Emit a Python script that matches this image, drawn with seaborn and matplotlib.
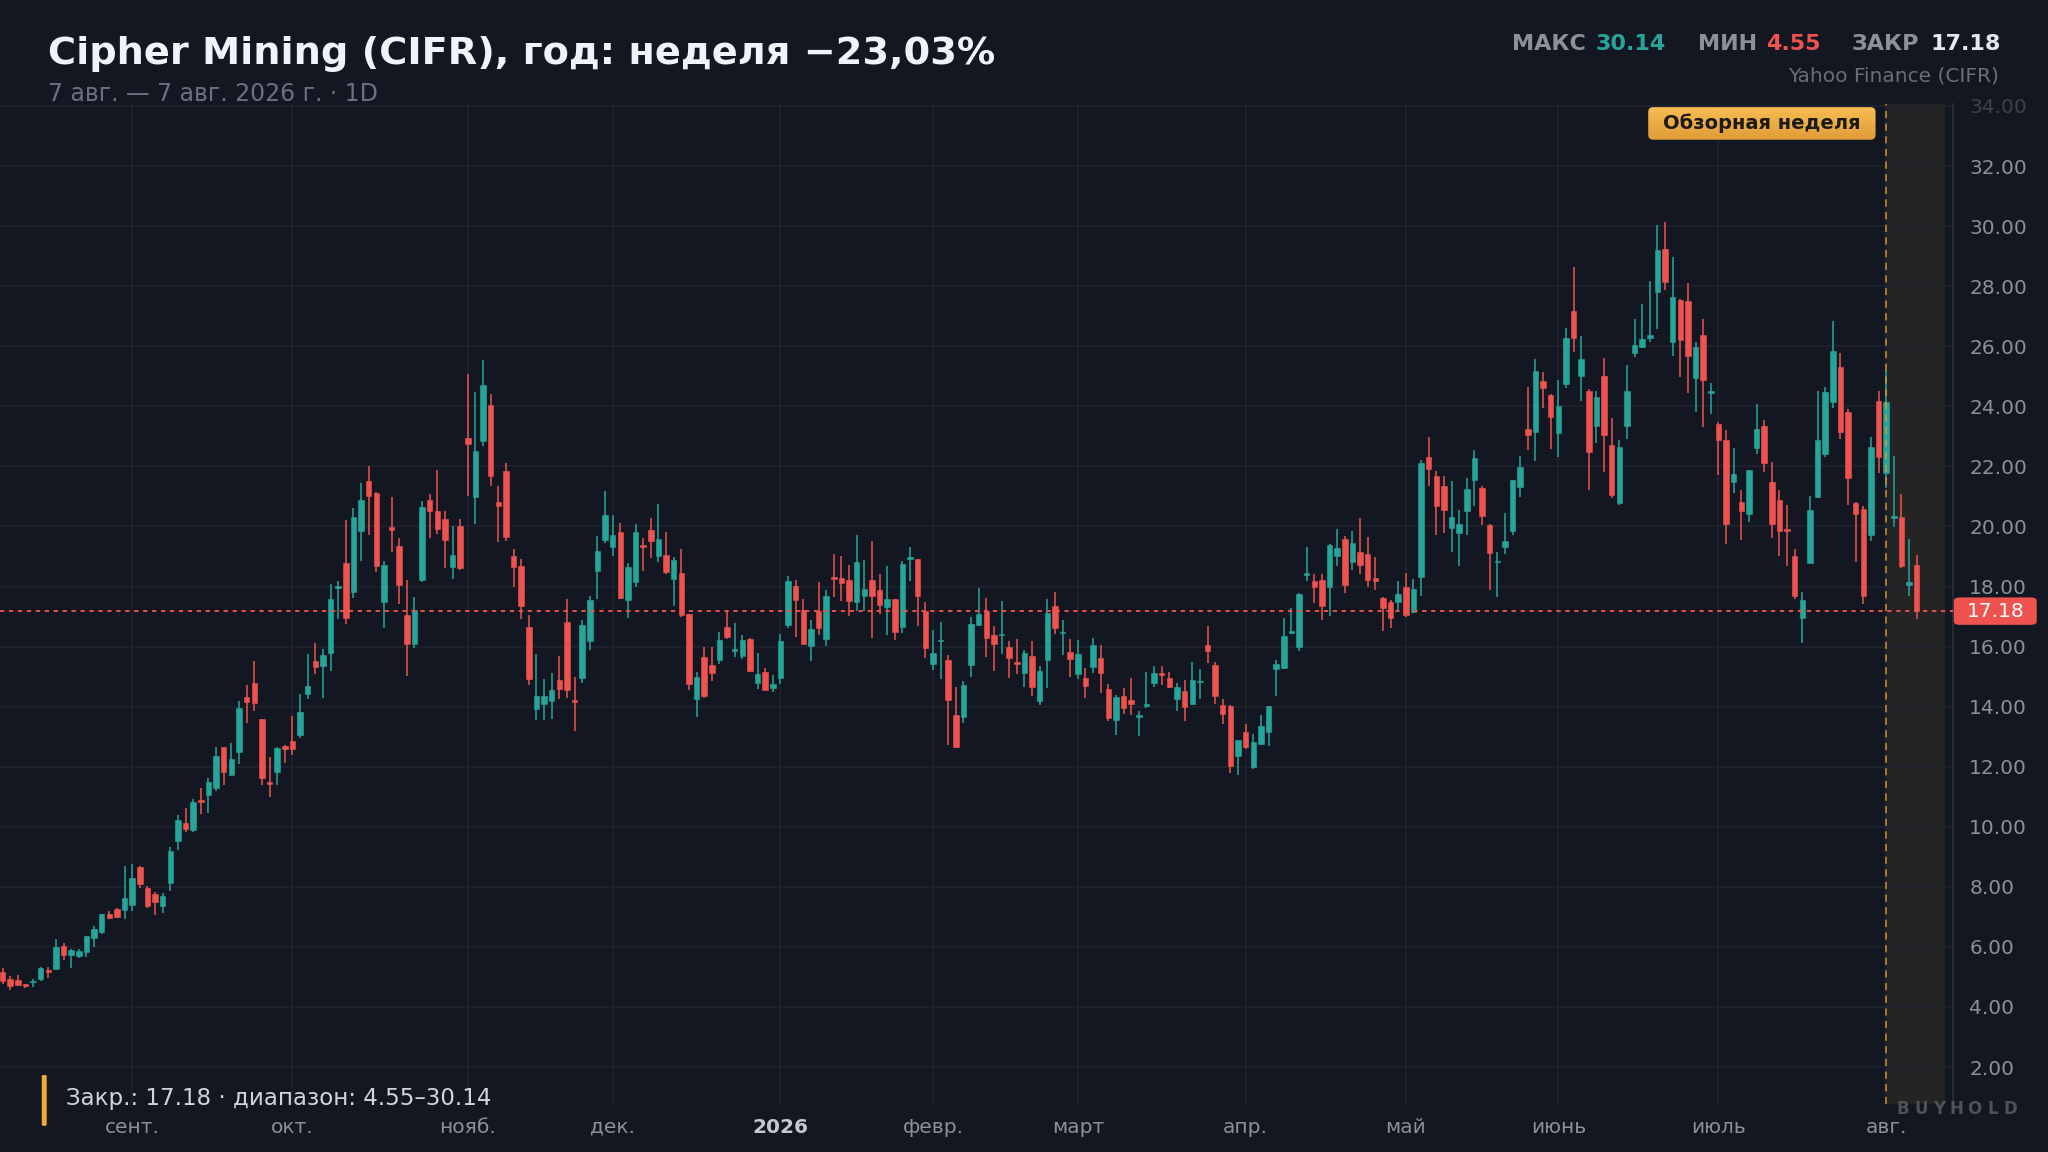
import numpy as np
import pandas as pd
import matplotlib
matplotlib.use("Agg")
import matplotlib.pyplot as plt
import seaborn as sns
from matplotlib.patches import FancyBboxPatch
from matplotlib.colors import LinearSegmentedColormap

# ---------------- data ----------------
OPEN = [5.15, 4.92, 4.89, 4.72, 4.82, 4.94, 5.22, 5.26, 6.02, 5.73,
        5.70, 5.84, 6.28, 6.51, 7.11, 7.26, 7.23, 7.40, 8.67, 7.96,
        7.76, 7.37, 8.14, 9.53, 10.13, 9.90, 10.87, 11.06, 11.29, 12.64,
        11.73, 12.50, 14.33, 14.80, 13.58, 11.49, 11.84, 12.70, 12.84, 13.07,
        14.43, 15.51, 15.35, 15.79, 17.95, 18.79, 17.82, 19.86, 21.50, 21.12,
        17.48, 19.97, 19.36, 17.06, 16.07, 18.23, 20.89, 20.51, 20.24, 18.66,
        20.03, 22.93, 20.98, 22.86, 24.06, 20.81, 21.86, 19.00, 18.67, 16.65,
        13.93, 14.09, 14.18, 14.90, 16.81, 14.21, 14.96, 16.20, 18.51, 19.56,
        19.33, 19.83, 17.56, 18.15, 19.37, 19.89, 19.03, 19.06, 18.24, 18.45,
        17.07, 14.24, 15.65, 15.40, 15.54, 16.65, 15.85, 15.67, 16.26, 14.80,
        15.15, 14.63, 14.96, 16.73, 18.01, 17.22, 16.01, 17.17, 16.24, 18.32,
        18.29, 18.23, 17.50, 17.67, 18.22, 17.89, 17.33, 17.58, 16.64, 18.92,
        18.90, 17.20, 15.42, 16.17, 15.56, 13.73, 13.64, 15.37, 16.73, 17.18,
        16.39, 16.37, 15.98, 15.46, 15.11, 15.70, 14.20, 15.56, 17.34, 16.44,
        15.81, 15.09, 14.96, 15.33, 15.62, 14.59, 13.54, 14.35, 14.23, 13.65,
        14.03, 14.78, 15.13, 14.96, 14.24, 14.51, 14.09, 14.81, 16.05, 15.40,
        14.04, 14.02, 12.35, 13.16, 12.00, 12.77, 13.16, 15.24, 15.28, 16.46,
        16.00, 18.39, 18.20, 18.22, 18.00, 19.02, 19.57, 18.83, 19.16, 19.08,
        18.30, 17.61, 17.48, 17.50, 17.97, 17.14, 18.33, 22.31, 21.68, 21.36,
        19.96, 19.77, 20.51, 21.54, 21.29, 20.04, 18.80, 19.33, 19.85, 21.31,
        23.25, 23.13, 24.85, 24.38, 23.10, 24.73, 27.18, 25.02, 24.52, 23.33,
        25.02, 22.70, 20.79, 23.33, 25.77, 25.99, 26.26, 27.82, 29.23, 26.13,
        27.54, 27.51, 24.94, 26.37, 24.44, 23.42, 22.87, 21.48, 20.82, 20.43,
        22.62, 23.33, 21.47, 20.88, 19.93, 19.00, 16.96, 18.77, 20.99, 22.42,
        24.14, 25.31, 23.81, 20.79, 20.58, 19.71, 24.17, 21.79, 20.28, 20.32,
        18.06, 18.70]
HIGH = [5.30, 5.03, 5.07, 4.78, 4.92, 5.33, 5.33, 6.26, 6.13, 5.93,
        5.92, 6.37, 6.70, 7.11, 7.20, 7.28, 8.70, 8.76, 8.70, 8.03,
        7.83, 7.81, 9.33, 10.40, 10.64, 10.91, 11.29, 11.62, 12.64, 12.66,
        12.80, 14.20, 14.73, 15.53, 13.60, 12.33, 12.64, 12.73, 13.69, 14.42,
        15.76, 16.12, 15.93, 18.09, 18.18, 20.20, 20.60, 21.45, 22.00, 21.14,
        18.84, 20.97, 19.62, 18.23, 17.64, 20.86, 21.09, 21.89, 20.53, 20.03,
        20.25, 25.09, 24.48, 25.53, 24.42, 21.34, 22.12, 19.26, 18.92, 17.04,
        15.76, 14.93, 15.12, 15.70, 17.57, 14.98, 16.87, 17.67, 19.67, 21.17,
        20.37, 20.12, 18.78, 20.09, 19.62, 20.29, 20.75, 19.80, 18.98, 19.26,
        17.10, 15.15, 15.98, 15.98, 16.48, 17.23, 16.79, 16.40, 16.28, 15.78,
        15.30, 15.04, 16.43, 18.34, 18.22, 17.60, 16.90, 18.14, 17.90, 19.07,
        19.00, 18.73, 19.70, 18.87, 19.51, 18.42, 18.68, 17.60, 18.84, 19.31,
        18.92, 17.48, 16.56, 16.81, 15.72, 14.67, 14.84, 17.00, 17.96, 17.62,
        16.69, 17.51, 16.17, 16.24, 15.87, 16.18, 15.34, 17.57, 17.83, 16.87,
        16.26, 16.21, 15.29, 16.27, 16.05, 14.76, 14.40, 14.62, 14.94, 13.85,
        15.17, 15.36, 15.34, 15.17, 14.78, 14.89, 15.47, 15.25, 16.67, 15.47,
        14.24, 14.06, 12.90, 13.43, 13.08, 13.71, 14.03, 15.56, 16.96, 17.27,
        17.79, 19.30, 18.42, 18.42, 19.40, 19.90, 19.68, 19.86, 20.27, 19.64,
        18.99, 17.65, 17.54, 18.17, 18.46, 18.24, 22.20, 22.97, 21.85, 21.67,
        21.51, 20.56, 21.62, 22.53, 21.34, 20.08, 19.16, 20.45, 21.56, 22.36,
        24.65, 25.57, 25.15, 24.40, 24.87, 26.60, 28.64, 26.35, 24.58, 24.52,
        25.60, 23.61, 22.89, 25.39, 26.90, 27.40, 28.17, 30.03, 30.14, 28.97,
        27.56, 28.09, 26.13, 26.90, 24.77, 23.47, 23.20, 22.62, 21.23, 21.89,
        24.08, 23.55, 22.16, 21.23, 20.73, 19.25, 17.81, 21.02, 24.50, 24.64,
        26.85, 25.78, 23.90, 20.81, 20.67, 22.98, 24.52, 25.21, 22.36, 21.08,
        19.57, 19.04]
LOW = [4.75, 4.55, 4.70, 4.62, 4.67, 4.87, 4.98, 5.26, 5.56, 5.29,
       5.64, 5.67, 6.00, 6.44, 6.92, 6.97, 6.92, 7.20, 7.96, 7.29,
       7.07, 7.14, 7.87, 9.22, 9.84, 9.83, 10.44, 10.47, 11.20, 11.40,
       11.71, 12.09, 13.44, 13.87, 11.40, 11.00, 11.38, 12.11, 12.40, 12.95,
       14.24, 15.09, 14.29, 15.18, 16.93, 16.75, 17.62, 18.86, 19.73, 18.49,
       16.62, 19.14, 17.43, 15.01, 15.95, 18.15, 19.62, 19.75, 18.62, 18.26,
       18.55, 21.00, 20.08, 22.67, 21.36, 19.47, 19.53, 17.99, 16.93, 14.71,
       13.56, 13.54, 13.60, 14.24, 14.30, 13.20, 14.80, 15.90, 17.57, 19.45,
       19.00, 17.60, 16.95, 18.00, 18.50, 18.95, 18.83, 18.40, 17.34, 16.98,
       14.54, 13.65, 14.28, 14.84, 15.43, 16.26, 15.65, 15.60, 15.17, 14.60,
       14.55, 14.50, 14.76, 16.63, 16.32, 16.05, 15.53, 16.37, 16.01, 17.64,
       17.53, 17.03, 17.20, 17.20, 16.28, 17.09, 16.37, 16.22, 16.44, 18.17,
       16.70, 15.62, 15.23, 14.92, 12.73, 12.61, 13.44, 15.00, 16.67, 15.64,
       15.20, 15.76, 14.96, 15.09, 14.67, 14.37, 14.06, 14.62, 16.42, 15.73,
       14.98, 14.92, 14.28, 15.12, 14.45, 13.52, 13.05, 13.76, 13.73, 13.01,
       13.96, 14.67, 14.73, 14.61, 13.85, 13.52, 14.07, 14.26, 15.44, 14.10,
       13.43, 11.80, 11.72, 12.60, 11.91, 12.77, 12.68, 14.34, 15.25, 16.42,
       15.84, 18.20, 17.45, 16.87, 17.03, 18.68, 17.80, 18.55, 18.42, 18.00,
       17.87, 16.51, 16.62, 17.23, 17.00, 17.12, 17.67, 21.34, 19.71, 19.79,
       19.16, 18.68, 19.71, 20.67, 20.04, 17.87, 17.65, 19.07, 19.71, 20.98,
       22.55, 22.18, 23.94, 22.59, 22.31, 24.60, 25.80, 24.19, 21.23, 22.78,
       21.81, 20.95, 20.71, 22.92, 25.63, 25.94, 26.13, 26.57, 27.86, 25.66,
       24.97, 24.44, 23.81, 23.31, 23.73, 21.70, 19.41, 21.10, 19.55, 20.15,
       22.42, 21.81, 19.63, 19.01, 18.68, 17.59, 16.13, 18.77, 20.96, 22.30,
       23.93, 22.90, 20.72, 18.82, 17.43, 19.51, 21.79, 21.29, 19.99, 18.62,
       17.67, 16.92]
CLOSE = [4.85, 4.70, 4.73, 4.70, 4.87, 5.29, 5.18, 6.01, 5.72, 5.91,
         5.87, 6.37, 6.59, 7.09, 6.96, 6.98, 7.62, 8.29, 8.09, 7.37,
         7.50, 7.68, 9.20, 10.22, 9.92, 10.83, 10.82, 11.49, 12.37, 11.83,
         12.27, 13.96, 14.14, 14.13, 11.64, 11.44, 12.62, 12.58, 12.59, 13.81,
         14.68, 15.31, 15.73, 17.59, 18.00, 16.95, 20.32, 20.87, 21.00, 18.67,
         18.73, 19.89, 18.04, 16.07, 17.23, 20.65, 20.53, 19.93, 19.55, 19.06,
         18.62, 22.75, 22.50, 24.70, 21.67, 20.67, 19.64, 18.64, 17.34, 14.93,
         14.37, 14.34, 14.57, 14.60, 14.54, 14.16, 16.73, 17.54, 19.17, 20.37,
         19.70, 17.62, 18.65, 19.83, 19.30, 19.50, 19.57, 18.48, 18.89, 17.04,
         14.74, 14.98, 14.35, 15.13, 16.23, 16.32, 15.93, 16.23, 15.18, 15.10,
         14.57, 14.76, 16.20, 18.17, 17.54, 16.07, 16.57, 16.62, 17.68, 18.26,
         18.12, 17.51, 18.81, 17.92, 17.70, 17.39, 17.57, 16.47, 18.76, 18.99,
         17.68, 15.94, 15.79, 16.22, 14.23, 12.67, 14.72, 16.76, 17.09, 16.28,
         16.09, 16.41, 15.62, 15.43, 15.79, 14.64, 15.20, 17.12, 16.61, 16.49,
         15.58, 15.75, 14.70, 16.05, 15.12, 13.62, 14.32, 13.96, 14.09, 13.70,
         14.08, 15.12, 15.06, 14.65, 14.65, 13.98, 14.89, 14.86, 15.86, 14.34,
         13.74, 12.02, 12.88, 12.64, 12.83, 13.34, 14.01, 15.42, 16.34, 16.51,
         17.76, 18.44, 18.00, 17.36, 19.38, 19.29, 18.06, 19.44, 18.72, 18.22,
         18.19, 17.28, 16.95, 17.75, 17.06, 17.91, 22.12, 21.92, 20.69, 20.56,
         20.30, 20.07, 21.26, 22.29, 20.34, 19.13, 18.86, 19.51, 21.54, 21.98,
         23.03, 25.16, 24.61, 23.66, 24.02, 26.29, 26.26, 25.58, 22.48, 24.30,
         23.06, 21.04, 22.64, 24.50, 26.04, 26.24, 26.37, 29.19, 28.15, 27.64,
         26.22, 25.69, 25.96, 24.86, 24.49, 22.87, 20.07, 21.76, 20.51, 21.87,
         23.25, 22.10, 20.08, 19.84, 19.86, 17.67, 17.55, 20.54, 22.89, 24.46,
         25.83, 23.13, 21.62, 20.40, 17.67, 22.63, 22.31, 24.14, 20.34, 18.68,
         18.14, 17.18]

HOLIDAYS = ["2025-09-01", "2025-11-27", "2025-12-25", "2026-01-01", "2026-01-19",
            "2026-02-16", "2026-04-03", "2026-05-25", "2026-06-19", "2026-07-03"]
MONTH_LABELS = ["сент.", "окт.", "нояб.", "дек.", "2026", "февр.", "март",
                "апр.", "май", "июнь", "июль", "авг."]
Y_TICKS = [2, 4, 6, 8, 10, 12, 14, 16, 18, 20, 22, 24, 26, 28, 30, 32, 34]
LAST_PRICE = 17.18
MAX_PRICE = 30.14
MIN_PRICE = 4.55
REVIEW_WEEK_START = 247   # index of first candle of the review week

TITLE = "Cipher Mining (CIFR), год: неделя −23,03%"
SUBTITLE = "7 авг. — 7 авг. 2026 г. · 1D"
SOURCE = "Yahoo Finance (CIFR)"
BADGE = "Обзорная неделя"
FOOTER = "Закр.: 17.18 · диапазон: 4.55–30.14"
WATERMARK = "BUYHOLD"

# ---------------- style ----------------
BG = "#131722"
GRID = "#1e222d"
UP = "#26a69a"
DOWN = "#ef5350"
TICK = "#8c909b"

sns.set_theme(style="dark", rc={
    "axes.facecolor": BG, "figure.facecolor": BG,
    "axes.edgecolor": "#2a2e39", "grid.color": GRID,
})
plt.rcParams["font.family"] = ["DejaVu Sans"]

dates = pd.bdate_range("2025-08-07", "2026-08-07", freq="C", holidays=HOLIDAYS)
n = len(OPEN)
dates = dates[:n]
df = pd.DataFrame({"date": dates, "open": OPEN, "high": HIGH, "low": LOW, "close": CLOSE})
df["x"] = np.arange(n)
df["up"] = df["close"] >= df["open"]
df["color"] = np.where(df["up"], UP, DOWN)
df["body_lo"] = df[["open", "close"]].min(axis=1)
df["body_h"] = (df["close"] - df["open"]).abs().clip(lower=0.06)

W, H = 2048, 1152
fig = plt.figure(figsize=(W / 100, H / 100), dpi=100)
ax = fig.add_axes([0.0, 0.04195, 0.9534, 0.86735])
ax.set_facecolor(BG)

XMIN, XMAX = -0.34, 255.7
YMIN, YMAX = 0.78, 34.05
ax.set_xlim(XMIN, XMAX)
ax.set_ylim(YMIN, YMAX)

# review-week shading
ax.axvspan(REVIEW_WEEK_START, 254.7, color="#262626", alpha=0.9, zorder=0.2, lw=0)

# grid
month_first = df.groupby(df["date"].dt.to_period("M"))["x"].min().values[1:]
ax.set_axisbelow(True)
ax.set_xticks(month_first)
ax.set_yticks(Y_TICKS)
ax.grid(True, color=GRID, lw=1.2)

# candles
ax.vlines(df["x"], df["low"], df["high"], colors=df["color"], lw=1.1, zorder=2)
ax.bar(df["x"], df["body_h"], bottom=df["body_lo"], width=0.72,
       color=df["color"], edgecolor=df["color"], lw=0.4, zorder=3)

# last price line and review-week marker
ax.axhline(LAST_PRICE, color=DOWN, lw=1.4, ls=(0, (2.2, 2.4)), alpha=0.95, zorder=4)
ax.axvline(REVIEW_WEEK_START, color="#d99a36", lw=1.3, ls=(0, (4, 3)), alpha=0.8, zorder=4)

# axes styling
sns.despine(ax=ax, left=True, bottom=True, top=True, right=False)
ax.spines["right"].set_color("#2a2e39")
ax.spines["right"].set_linewidth(1.2)
ax.yaxis.tick_right()
ax.tick_params(axis="y", length=0, pad=12, labelsize=14.5, labelcolor=TICK)
ax.tick_params(axis="x", length=0, pad=10, labelsize=14.5, labelcolor=TICK)
ax.set_yticklabels([f"{v:.2f}" for v in Y_TICKS])
ax.set_xticklabels(MONTH_LABELS)
for lab in ax.get_xticklabels():
    if lab.get_text() == "2026":
        lab.set_fontweight("bold")
        lab.set_color("#c5c8d0")
for lab in ax.get_yticklabels():
    if lab.get_text() == "34.00":
        lab.set_alpha(0.35)

# last price tag
fig.canvas.draw()
y_disp = ax.transData.transform((0, LAST_PRICE))[1]
y_fig = fig.transFigure.inverted().transform((0, y_disp))[1]
tag_h = 0.0238
fig.patches.append(FancyBboxPatch((0.9540, y_fig - tag_h / 2), 0.0405, tag_h,
                                  boxstyle="round,pad=0,rounding_size=0.003",
                                  transform=fig.transFigure, fc=DOWN, ec="none", zorder=5))
fig.text(0.9745, y_fig, f"{LAST_PRICE:.2f}", color="white", fontsize=14.5,
         ha="center", va="center", zorder=6)

# header
fig.text(0.0236, 0.9535, TITLE, color="#f0f3fa", fontsize=27.5, fontweight="bold",
         ha="left", va="center")
fig.text(0.0236, 0.9180, SUBTITLE, color="#6b7080", fontsize=17, ha="left", va="center")

stats = [("МАКС", 0.7385, TICK), (f"{MAX_PRICE:.2f}", 0.7793, UP),
         ("МИН", 0.8291, TICK), (f"{MIN_PRICE:.2f}", 0.8622, DOWN),
         ("ЗАКР", 0.9043, TICK), (f"{LAST_PRICE:.2f}", 0.9426, "#e6e8ee")]
for txt, xx, col in stats:
    fig.text(xx, 0.9615, txt, color=col, fontsize=16, fontweight="bold",
             ha="left", va="center")
fig.text(0.9758, 0.9342, SOURCE, color="#6a6e79", fontsize=14.5, ha="right", va="center")

# review-week badge with gradient (pixel coordinates inside its own axes)
bx0, by0, bw, bh = 0.8048, 0.8787, 0.1110, 0.0283
bw_px, bh_px = bw * W, bh * H
badge_ax = fig.add_axes([bx0, by0, bw, bh])
badge_ax.set_axis_off()
grad = np.linspace(0, 1, 64).reshape(-1, 1)
cmap = LinearSegmentedColormap.from_list("badge", ["#f7bd52", "#e09c38"])
im = badge_ax.imshow(grad, aspect="auto", cmap=cmap, extent=(0, bw_px, 0, bh_px),
                     origin="upper")
clip = FancyBboxPatch((0.0, 0.0), bw_px, bh_px, boxstyle="round,pad=0,rounding_size=5",
                      transform=badge_ax.transData, fc="none", ec="none")
badge_ax.add_patch(clip)
im.set_clip_path(clip)
badge_ax.set_xlim(0, bw_px)
badge_ax.set_ylim(0, bh_px)
fig.text(bx0 + bw / 2, by0 + bh / 2, BADGE, color="#1c1a16", fontsize=14,
         fontweight="bold", ha="center", va="center", zorder=7)

# footer annotation
fig.patches.append(FancyBboxPatch((0.0204, 0.0227), 0.0024, 0.0442,
                                  boxstyle="round,pad=0,rounding_size=0.001",
                                  transform=fig.transFigure, fc="#f0a93a", ec="none"))
fig.text(0.0322, 0.0465, FOOTER, color="#d1d4dc", fontsize=16.5, ha="left", va="center")

# watermark (kept just above the month labels)
for i, ch in enumerate(WATERMARK):
    fig.text((1457 + i * 13.7) / 1568, 0.0372, ch, color="#4d515c", fontsize=12,
             fontweight="bold", ha="center", va="center")

fig.savefig("out.png", dpi=100, facecolor=BG)
